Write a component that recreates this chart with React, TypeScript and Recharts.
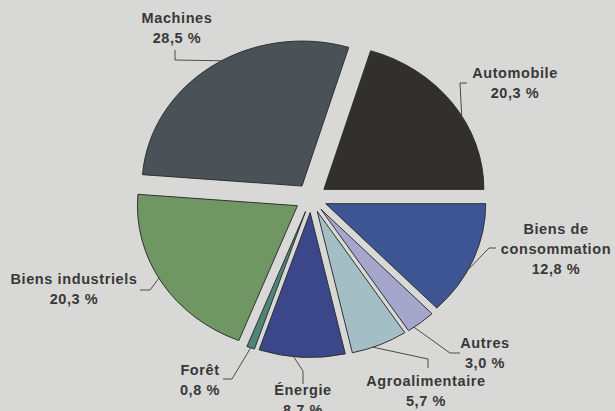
import React from "react"
import { PieChart, Pie, Sector, Cell } from "recharts"

// order is counter-clockwise from 3 o'clock
const CATEGORIES = [
  "Automobile",
  "Machines",
  "Biens industriels",
  "Forêt",
  "Énergie",
  "Agroalimentaire",
  "Autres",
  "Biens de consommation",
]
const SHARES = [20.3, 28.5, 20.3, 0.8, 8.7, 5.7, 3.0, 12.8]
const COLORS = ["#32302e", "#4b5257", "#6f9663", "#4f8478", "#3b4788", "#a3bfc5", "#a4a6cc", "#3e5593"]

const chartData = CATEGORIES.map((name, i) => ({ name, value: SHARES[i] }))

// label placement (layout only)
const LABELS = [
  { lines: ["Automobile"], x: 515, y: 73, elbow: [[467, 83], [460, 83]], shift: -6 },
  { lines: ["Machines"], x: 177, y: 18, elbow: [[175, 50], [175, 60]], shift: -4 },
  { lines: ["Biens industriels"], x: 74, y: 279, elbow: [[140, 290], [150, 290]], shift: -2 },
  { lines: ["Forêt"], x: 200, y: 370, elbow: [[223, 379], [232, 379]], shift: 0 },
  { lines: ["Énergie"], x: 303, y: 390, elbow: [[303, 384], [303, 371]], shift: -3 },
  { lines: ["Agroalimentaire"], x: 426, y: 381, elbow: [[428, 368], [428, 359]], shift: -2.5 },
  { lines: ["Autres"], x: 485, y: 343, elbow: [[460, 353], [450, 353]], shift: -3 },
  { lines: ["Biens de", "consommation"], x: 556, y: 229, elbow: [[496, 248], [489, 248]], shift: -4 },
]

const RAD = Math.PI / 180
const SY = 0.906 // scan is slightly squashed vertically
const OFFSET = 16
const TEXT = "#383838"

const fmt = (v: number) => v.toFixed(1).replace(".", ",") + " %"

const ExplodedSector = (props: any) => {
  const { cx, cy, innerRadius, outerRadius, startAngle, endAngle, fill } = props
  const mid = props.midAngle ?? (startAngle + endAngle) / 2
  const dx = OFFSET * Math.cos(-mid * RAD)
  const dy = OFFSET * Math.sin(-mid * RAD)
  return (
    <g transform={`translate(0 ${cy}) scale(1 ${SY}) translate(0 ${-cy})`}>
      <Sector
        cx={cx + dx}
        cy={cy + dy}
        innerRadius={innerRadius}
        outerRadius={outerRadius}
        startAngle={startAngle}
        endAngle={endAngle}
        fill={fill}
        stroke="#2b2b2b"
        strokeWidth={1}
      />
    </g>
  )
}

const renderLabel = (p: any) => {
  const L = LABELS[p.index]
  if (!L) return null
  const m = -p.midAngle * RAD
  const ox = p.cx + OFFSET * Math.cos(m)
  const oy = OFFSET * Math.sin(m)
  const a = -(p.midAngle + L.shift) * RAD
  const ax = ox + p.outerRadius * Math.cos(a)
  const ay = p.cy + SY * (oy + p.outerRadius * Math.sin(a))
  const pts = [...L.elbow, [ax, ay]].map((q) => q.join(",")).join(" ")
  const lines = [...L.lines, fmt(SHARES[p.index])]
  return (
    <g key={`lbl-${p.index}`}>
      <polyline points={pts} fill="none" stroke="#4a4a4a" strokeWidth={1} />
      {lines.map((t, i) => (
        <text
          key={i}
          x={L.x}
          y={L.y + i * 20 + 5}
          textAnchor="middle"
          fill={TEXT}
          fontSize={14.5}
          fontWeight="bold"
          letterSpacing={0.6}
          fontFamily="'Liberation Sans', Arial, sans-serif"
        >
          {t}
        </text>
      ))}
    </g>
  )
}

export default function App() {
  return (
    <div style={{ position: "absolute", left: 0, top: 0, width: 615, height: 411, background: "#d8d8d6" }}>
      <PieChart width={615} height={411} margin={{ top: 0, right: 0, bottom: 0, left: 0 }}>
        <Pie
          data={chartData}
          dataKey="value"
          nameKey="name"
          cx={311}
          cy={198}
          outerRadius={160}
          startAngle={0}
          endAngle={360}
          isAnimationActive={false}
          shape={ExplodedSector}
          inactiveShape={ExplodedSector}
          activeShape={ExplodedSector}
          label={renderLabel}
          labelLine={false}
          stroke="#2b2b2b"
        >
          {chartData.map((d, i) => (
            <Cell key={d.name} fill={COLORS[i]} />
          ))}
        </Pie>
      </PieChart>
    </div>
  )
}
